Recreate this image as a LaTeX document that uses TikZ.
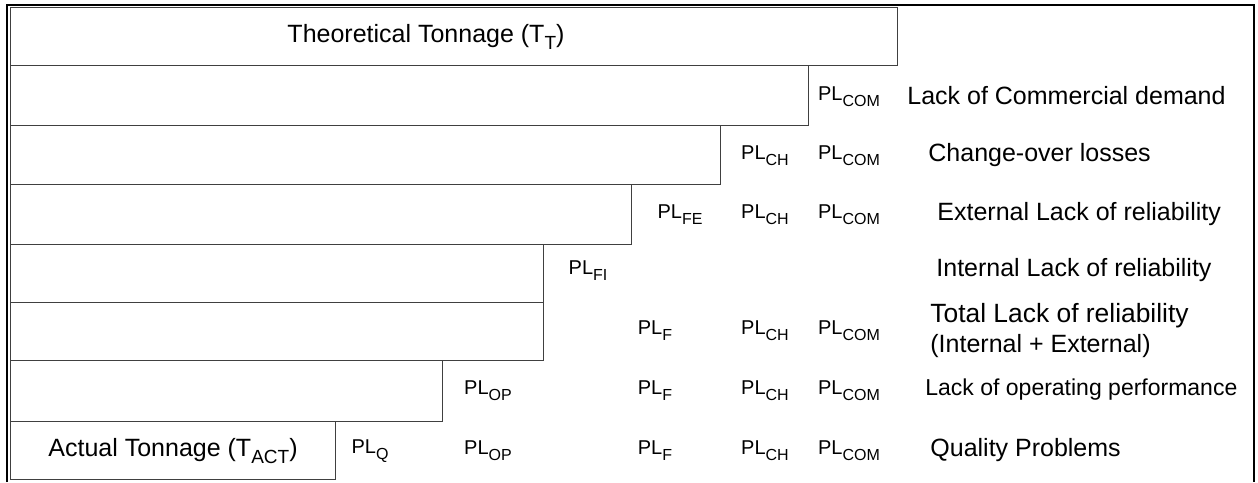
\documentclass[tikz,border=0pt]{standalone}
\usepackage{fontspec}
\setmainfont{Liberation Sans}
\usepackage{tikz}
\tikzstyle{bar} = [rectangle, draw=black!75, line width=0.5pt, anchor=north west, inner sep=0pt]
\tikzstyle{loss} = [inner sep=0pt, font=\fontsize{10}{12}\selectfont]
\tikzstyle{cause} = [anchor=west, inner sep=0pt, font=\fontsize{12.5}{15}\selectfont]
\tikzstyle{frame} = [line width=1pt]
\newcommand{\PLsub}[1]{PL\raisebox{-3pt}{\fontsize{8}{9}\selectfont #1}}
\newcommand{\Tsub}[1]{\raisebox{-3.5pt}{\fontsize{9.5}{11}\selectfont #1}}

\begin{document}
\begin{tikzpicture}[x=0.5pt,y=-0.5pt]
\useasboundingbox (0,0) rectangle (1258,482);
\draw [frame] (7,482) -- (7,5) -- (1254,5) -- (1254,482);

\node [bar, minimum width=443.5pt, minimum height=29pt] (b1) at (10,7) {};
\node [bar, minimum width=399pt, minimum height=30pt] (b2) at (10,65) {};
\node [bar, minimum width=355pt, minimum height=29.5pt] (b3) at (10,125) {};
\node [bar, minimum width=310.5pt, minimum height=30pt] (b4) at (10,184) {};
\node [bar, minimum width=266.5pt, minimum height=29pt] (b5) at (10,244) {};
\node [bar, minimum width=266.5pt, minimum height=29pt] (b6) at (10,302) {};
\node [bar, minimum width=216pt, minimum height=30.5pt] (b7) at (10,360) {};
\node [bar, minimum width=162.5pt, minimum height=29pt] (b8) at (10,421) {};

\node [font=\fontsize{12.5}{15}\selectfont] (t1) at (426,37) {Theoretical Tonnage (T\Tsub{T})};
\node [font=\fontsize{12.5}{15}\selectfont] (t8) at (173,451) {Actual Tonnage (T\Tsub{ACT})};

\node [loss] (com2) at (849,97) {\PLsub{COM}};

\node [loss] (ch3) at (765,156) {\PLsub{CH}};
\node [loss] (com3) at (849,156) {\PLsub{COM}};

\node [loss] (fe4) at (680,215) {\PLsub{FE}};
\node [loss] (ch4) at (765,215) {\PLsub{CH}};
\node [loss] (com4) at (849,215) {\PLsub{COM}};

\node [loss] (fi5) at (588,271) {\PLsub{FI}};

\node [loss] (f6) at (655,331) {\PLsub{F}};
\node [loss] (ch6) at (765,331) {\PLsub{CH}};
\node [loss] (com6) at (849,331) {\PLsub{COM}};

\node [loss] (op7) at (488,391) {\PLsub{OP}};
\node [loss] (f7) at (655,391) {\PLsub{F}};
\node [loss] (ch7) at (765,391) {\PLsub{CH}};
\node [loss] (com7) at (849,391) {\PLsub{COM}};

\node [loss] (q8) at (370,451) {\PLsub{Q}};
\node [loss] (op8) at (488,451) {\PLsub{OP}};
\node [loss] (f8) at (655,451) {\PLsub{F}};
\node [loss] (ch8) at (765,451) {\PLsub{CH}};
\node [loss] (com8) at (849,451) {\PLsub{COM}};

\node [cause] (d2) at (907,96) {Lack of Commercial demand};
\node [cause] (d3) at (928,155) {Change-over losses};
\node [cause] (d4) at (937,214) {External Lack of reliability};
\node [cause] (d5) at (936,270) {Internal Lack of reliability};
\node [cause, align=left] (d6) at (930,331) {{\fontsize{13.2}{16}\selectfont Total Lack of reliability}\\(Internal + External)};
\node [cause, font=\fontsize{11.5}{14}\selectfont] (d7) at (925,390) {Lack of operating performance};
\node [cause] (d8) at (930,450) {Quality Problems};

\end{tikzpicture}
\end{document}
